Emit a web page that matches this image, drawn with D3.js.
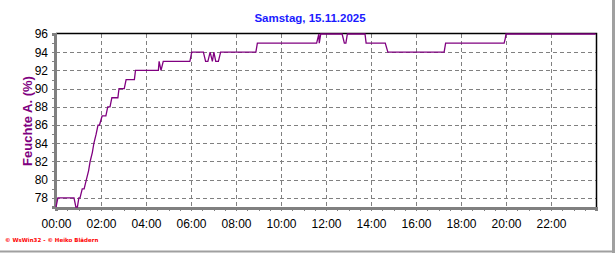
<!DOCTYPE html>
<html>
<head>
<meta charset="utf-8">
<script src="https://cdn.jsdelivr.net/npm/d3@7"></script>
<style>
  body { margin: 0; background: #fff; }
  svg { display: block; }
</style>
</head>
<body>
<svg id="mainsvg" width="616" height="253"></svg>
<script>
// Feuchte aussen, Samstag 15.11.2025
const times = ['00:00', '00:05', '00:48', '00:53', '00:57', '01:01', '01:04', '01:10', '01:15', '01:21',
    '01:27', '01:31', '01:37', '01:41', '01:47', '01:52', '01:56', '02:03', '02:13', '02:18',
    '02:24', '02:29', '02:45', '02:48', '03:02', '03:07', '03:29', '03:32', '04:33', '04:35',
    '04:40', '04:46', '05:57', '06:02', '06:33', '06:39', '06:45', '06:51', '06:57', '07:01',
    '07:06', '07:13', '07:19', '08:53', '08:57', '11:35', '11:41', '11:42', '11:46', '12:43',
    '12:49', '12:53', '12:57', '13:44', '13:47', '14:38', '14:45', '17:15', '17:19', '19:55',
    '19:58', '20:00', '23:59'];
const humidity = [77, 78, 78, 77, 77, 78, 78, 79, 79, 80,
    81, 82, 83, 84, 85, 86, 86, 87, 87, 88,
    88, 89, 89, 90, 90, 91, 91, 92, 92, 93,
    92, 93, 93, 94, 94, 93, 93, 94, 93, 94,
    93, 93, 94, 94, 95, 95, 96, 95, 96, 96,
    95, 95, 96, 96, 95, 95, 94, 94, 95, 95,
    95.5, 96, 96];
const xTickLabels = ['00:00', '02:00', '04:00', '06:00', '08:00', '10:00', '12:00',
    '14:00', '16:00', '18:00', '20:00', '22:00'];
const yTicks = [78, 80, 82, 84, 86, 88, 90, 92, 94, 96];
const title = 'Samstag, 15.11.2025';
const yAxisLabel = 'Feuchte A. (%)';
const credit = '© WsWin32 - © Heiko Blädern';

const toMin = s => { const p = s.split(':'); return +p[0] * 60 + +p[1]; };
const data = times.map((t, i) => ({ t: toMin(t), v: humidity[i] }));

const svg = d3.select('#mainsvg');
const plotLeft = 56, plotRight = 596, plotTop = 34, plotBottom = 207;

const xScale = d3.scaleLinear().domain([0, 1440]).range([plotLeft, plotRight]);
const yScale = d3.scaleLinear().domain([77, 96]).range([plotBottom, plotTop]);

const g = svg.append('g');

// outer frame (right and bottom)
g.append('rect').attr('x', 612).attr('y', 0).attr('width', 3).attr('height', 253).attr('fill', '#a0a0a0');
g.append('rect').attr('x', 0).attr('y', 250.5).attr('width', 615).attr('height', 2).attr('fill', '#a0a0a0');

// grid
const grid = g.append('g').attr('stroke', '#808080').attr('stroke-width', 1)
    .attr('stroke-dasharray', '4,3').attr('shape-rendering', 'crispEdges');
grid.selectAll('.hg').data(yTicks.filter(d => d < 96)).join('line')
    .attr('x1', plotLeft).attr('x2', plotRight)
    .attr('y1', d => Math.round(yScale(d)) + 0.5).attr('y2', d => Math.round(yScale(d)) + 0.5);
grid.selectAll('.vg').data(xTickLabels.slice(1)).join('line')
    .attr('x1', d => Math.round(xScale(toMin(d))) + 0.5).attr('x2', d => Math.round(xScale(toMin(d))) + 0.5)
    .attr('y1', plotTop).attr('y2', plotBottom);

// top and right border
g.append('path')
    .attr('d', `M${plotLeft},${plotTop - 0.5}H${plotRight + 0.5}V${plotBottom}`)
    .attr('fill', 'none').attr('stroke', '#000').attr('stroke-width', 1.5);

// axes
const xAxis = d3.axisBottom(xScale)
    .tickValues(d3.range(0, 1441, 30))
    .tickSize(3)
    .tickPadding(8)
    .tickFormat(d => d % 120 === 0 && d < 1440 ? xTickLabels[d / 120] : '');
const xAxisGroup = g.append('g').call(xAxis)
    .attr('transform', `translate(0, ${plotBottom + 1})`);
xAxisGroup.select('.domain').attr('stroke', '#808080').attr('stroke-width', 3);
xAxisGroup.selectAll('.tick line').attr('stroke', '#808080').attr('shape-rendering', 'crispEdges');
xAxisGroup.selectAll('.tick text')
    .attr('font-family', 'Arial, "Liberation Sans", sans-serif').attr('font-size', '12px')
    .attr('fill', '#000');

const yAxis = d3.axisLeft(yScale)
    .tickValues(d3.range(77, 97, 1))
    .tickSize(3)
    .tickFormat(d => yTicks.includes(d) ? d : '');
const yAxisGroup = g.append('g').call(yAxis)
    .attr('transform', `translate(${plotLeft - 1}, 0)`);
yAxisGroup.select('.domain').attr('stroke', '#808080').attr('stroke-width', 3);
yAxisGroup.selectAll('.tick line').attr('stroke', '#808080').attr('shape-rendering', 'crispEdges');
yAxisGroup.selectAll('.tick text')
    .attr('font-family', 'Arial, "Liberation Sans", sans-serif').attr('font-size', '12px')
    .attr('fill', '#000').attr('x', -7);

// humidity line
const line = d3.line().x(d => xScale(d.t)).y(d => yScale(d.v));
g.append('path').datum(data)
    .attr('fill', 'none')
    .attr('stroke', '#800080')
    .attr('stroke-width', 1.3)
    .attr('stroke-linejoin', 'miter')
    .attr('d', line);

// title
svg.append('text')
    .attr('x', 310).attr('y', 22)
    .attr('text-anchor', 'middle')
    .attr('font-family', 'Arial, "Liberation Sans", sans-serif')
    .attr('font-size', '11.5px').attr('font-weight', 'bold')
    .attr('fill', '#1a1aff')
    .text(title);

// y axis label
svg.append('text')
    .attr('transform', 'rotate(-90)')
    .attr('x', -121).attr('y', 32)
    .attr('text-anchor', 'middle')
    .attr('font-family', 'Arial, "Liberation Sans", sans-serif')
    .attr('font-size', '13px').attr('font-weight', 'bold')
    .attr('fill', '#800080')
    .text(yAxisLabel);

// credit
svg.append('text')
    .attr('x', 5).attr('y', 242)
    .attr('font-family', 'Verdana, "DejaVu Sans", sans-serif')
    .attr('font-size', '5.5px').attr('font-weight', 'bold')
    .attr('fill', '#ff0000')
    .text(credit);
</script>
</body>
</html>
